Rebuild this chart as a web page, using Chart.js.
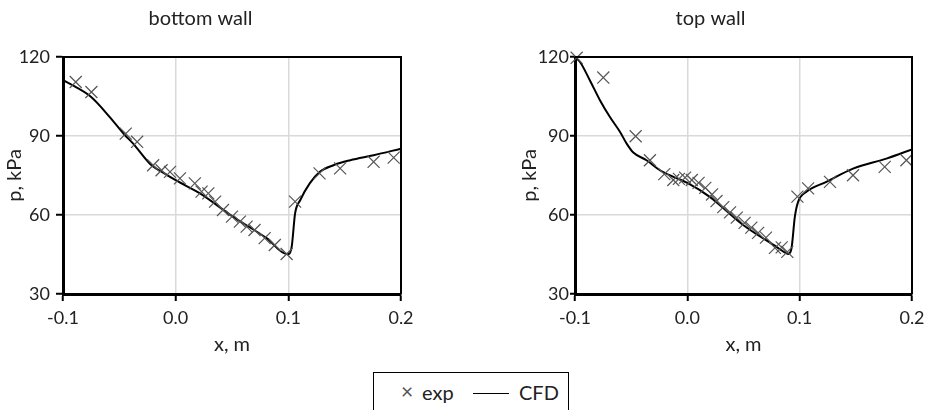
<!DOCTYPE html>
<html>
<head>
<meta charset="utf-8">
<script src="https://cdn.jsdelivr.net/npm/chart.js@4"></script>
<style>
  body { margin: 0; background: #fff; width: 931px; height: 410px; overflow: hidden; position: relative; font-family: Lato, sans-serif; }
  .wrap { position: absolute; top: 0; height: 365px; }
  #legend { position: absolute; left: 373px; top: 372px; width: 194px; height: 50px; border: 1.5px solid #000; font-size: 20px; color: #222; }
  #legend span { position: absolute; top: 7px; }
</style>
</head>
<body>
<div class="wrap" style="left:0;width:430px"><canvas id="bottom"></canvas></div>
<div class="wrap" style="left:509px;width:432px"><canvas id="top"></canvas></div>
<div id="legend">
  <span style="left:27px;color:#555;font-size:21px;top:5px">×</span>
  <span style="left:48px">exp</span>
  <span style="left:99px;top:20px;width:36px;border-top:1.5px solid #000"></span>
  <span style="left:145px">CFD</span>
</div>
<script>
// bottom wall
const bottomExpX = [-0.0887, -0.0748, -0.0443, -0.0342, -0.02, -0.0125, -0.005, 0.0038, 0.017, 0.023, 0.029, 0.035, 0.042, 0.05, 0.057, 0.063, 0.07, 0.079, 0.088, 0.0985, 0.106, 0.1277, 0.146, 0.1757, 0.1935];
const bottomExpY = [110.5, 106.7, 90.9, 87.8, 78.9, 77, 76.4, 73.9, 72.0, 68.9, 68.2, 65.1, 61.9, 59.4, 57.5, 55.6, 54.3, 51.2, 48.6, 45.2, 65.1, 75.8, 77.7, 80.2, 81.8];
const bottomCfdX = [-0.1, -0.09, -0.075, -0.0585, -0.045, -0.0377, -0.0229, -0.01, 0, 0.0216, 0.051, 0.081, 0.0986, 0.1004, 0.103, 0.106, 0.1105, 0.119, 0.128, 0.14, 0.155, 0.1757, 0.2];
const bottomCfdY = [111.2, 108.9, 104.8, 97.2, 90.3, 87.1, 79.5, 75.8, 73.2, 68.2, 59.3, 51.1, 45.2, 45.2, 48, 60.6, 65.6, 72, 76.4, 78.9, 80.8, 82.7, 85.2];

// top wall
const topExpX = [-0.0985, -0.0748, -0.046, -0.0333, -0.0205, -0.0125, -0.0075, -0.002, 0.004, 0.010, 0.016, 0.022, 0.026, 0.032, 0.038, 0.044, 0.051, 0.057, 0.063, 0.070, 0.078, 0.084, 0.089, 0.098, 0.1075, 0.127, 0.1475, 0.1757, 0.195];
const topExpY = [119.7, 112.2, 89.9, 80.8, 75.5, 73.3, 73.7, 74.2, 73.3, 72.2, 70.3, 67.8, 65.3, 63.0, 61.0, 59.0, 57.0, 55.2, 53.2, 51.4, 47.5, 47.7, 46.0, 67.0, 70.1, 72.6, 75.1, 78.3, 80.8];
const topCfdX = [-0.1, -0.0955, -0.0867, -0.0778, -0.0689, -0.06, -0.054, -0.0481, -0.0363, -0.0244, -0.0125, 0, 0.02, 0.0497, 0.0794, 0.0883, 0.0897, 0.0927, 0.0957, 0.0986, 0.106, 0.1238, 0.1475, 0.1772, 0.2];
const topCfdY = [120, 118.1, 111.1, 103.6, 97.2, 91.6, 87.1, 83.7, 80.8, 77.0, 74.5, 72.2, 66.9, 56.2, 47.9, 45.4, 45.2, 47.3, 59.3, 65.0, 68.8, 72.6, 77.6, 81.4, 84.9];

const xTicks = [-0.1, 0.0, 0.1, 0.2];
const yTicks = [30, 60, 90, 120];

Chart.defaults.font.family = "Lato, sans-serif";
Chart.defaults.font.size = 18;
Chart.defaults.color = "#222";

const toPoints = (xs, ys) => xs.map((x, i) => ({ x, y: ys[i] }));

// black frame on top and right of the plot area
const frame = {
  id: "frame",
  afterDatasetsDraw(chart) {
    const a = chart.chartArea, ctx = chart.ctx;
    ctx.save();
    ctx.strokeStyle = "#000";
    ctx.lineWidth = 2;
    ctx.beginPath();
    ctx.moveTo(a.left, a.top);
    ctx.lineTo(a.right, a.top);
    ctx.lineTo(a.right, a.bottom);
    ctx.stroke();
    ctx.restore();
  }
};

function makeChart(id, title, expX, expY, cfdX, cfdY, yw, ytPad, tickLen, labelPad) {
  return new Chart(document.getElementById(id), {
    type: "line",
    data: {
      datasets: [
        {
          label: "exp",
          data: toPoints(expX, expY),
          showLine: false,
          pointStyle: "crossRot",
          pointRadius: 8.5,
          pointBorderWidth: 1.2,
          pointBorderColor: "#555",
          clip: false
        },
        {
          label: "CFD",
          data: toPoints(cfdX, cfdY),
          borderColor: "#000",
          borderWidth: 2,
          pointRadius: 0,
          cubicInterpolationMode: "monotone"
        }
      ]
    },
    options: {
      responsive: true,
      maintainAspectRatio: false,
      animation: false,
      layout: { padding: { right: 29, bottom: 0 } },
      plugins: {
        legend: { display: false },
        tooltip: { enabled: false },
        title: { display: true, text: title, font: { size: 20, weight: "normal" }, padding: { top: 7, bottom: 26 } }
      },
      scales: {
        x: {
          type: "linear",
          min: -0.1, max: 0.2,
          afterBuildTicks: s => { s.ticks = xTicks.map(v => ({ value: v })); },
          afterFit: s => { s.height = 71; s.paddingLeft = 0; s.paddingRight = 0; },
          ticks: { callback: v => v.toFixed(1), padding: 6, maxRotation: 0 },
          grid: { color: "#d9d9d9", lineWidth: 1.5, tickColor: "#000", tickWidth: 2, tickLength: 7 },
          border: { color: "#000", width: 3 },
          title: { display: true, text: "x, m", font: { size: 20 }, padding: { top: 0, bottom: 8 } }
        },
        y: {
          min: 30, max: 120,
          afterBuildTicks: s => { s.ticks = yTicks.map(v => ({ value: v })); },
          afterFit: s => { s.width = yw; },
          ticks: { padding: labelPad },
          grid: { color: "#d9d9d9", lineWidth: 1.5, tickColor: "#000", tickWidth: 2, tickLength: tickLen },
          border: { color: "#000", width: 3 },
          title: { display: true, text: "p, kPa", font: { size: 20 }, padding: { top: ytPad, bottom: 0 } }
        }
      }
    },
    plugins: [frame]
  });
}

makeChart("bottom", "bottom wall", bottomExpX, bottomExpY, bottomCfdX, bottomCfdY, 63, 3, 7, 6);
makeChart("top", "top wall", topExpX, topExpY, topCfdX, topCfdY, 66, 9, 5, 1);
</script>
</body>
</html>
